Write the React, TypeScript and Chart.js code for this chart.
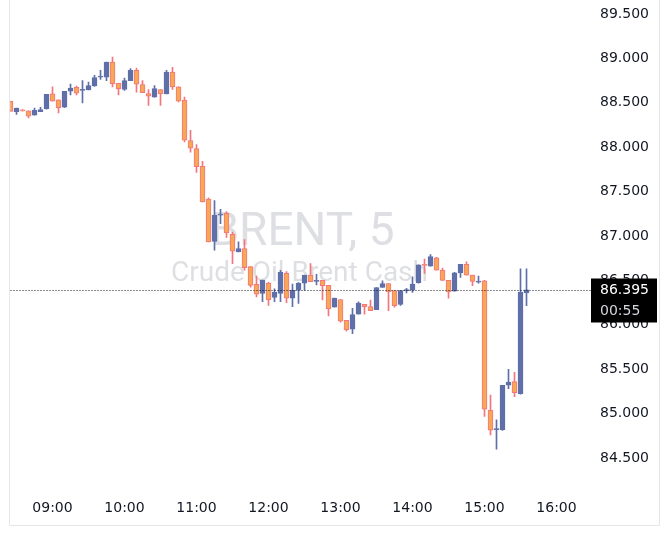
import React, { useEffect, useRef } from "react";
import { Chart, registerables } from "chart.js";

Chart.register(...registerables);

// ---- data ----
const sessionStart = "08:25";
const slotCount = 97; // 5-minute slots shown on the time axis (08:25 .. 16:25)
const hourTicks = ["09:00", "10:00", "11:00", "12:00", "13:00", "14:00", "15:00", "16:00"];

const opens = [
  88.516, 88.40, 88.42, 88.41, 88.36, 88.40, 88.435, 88.60, 88.535, 88.45,
  88.63, 88.675, 88.64, 88.645, 88.69, 88.79, 88.79, 88.96, 88.72, 88.65,
  88.75, 88.865, 88.705, 88.605, 88.565, 88.65, 88.60, 88.845, 88.68, 88.53,
  88.075, 87.985, 87.785, 87.415, 86.94, 87.235, 87.255, 87.02, 86.82, 86.86,
  86.655, 86.455, 86.355, 86.47, 86.31, 86.355, 86.58, 86.30, 86.39, 86.47,
  86.56, 86.49, 86.50, 86.445, 86.20, 86.285, 86.05, 85.95, 86.12, 86.23,
  86.205, 86.17, 86.42, 86.465, 86.385, 86.23, 86.385, 86.39, 86.475, 86.68,
  86.66, 86.755, 86.615, 86.50, 86.38, 86.585, 86.68, 86.56, 86.48, 86.495,
  85.04, 84.82, 84.82, 85.32, 85.36, 85.225, 86.36,
];
const highs = [
  88.52, 88.44, 88.425, 88.41, 88.44, 88.45, 88.595, 88.68, 88.535, 88.63,
  88.71, 88.69, 88.75, 88.735, 88.81, 88.865, 88.96, 89.015, 88.72, 88.78,
  88.885, 88.89, 88.75, 88.65, 88.695, 88.65, 88.865, 88.90, 88.68, 88.565,
  88.19, 88.03, 87.84, 87.43, 87.40, 87.30, 87.275, 87.045, 86.935, 86.96,
  86.655, 86.55, 86.505, 86.48, 86.405, 86.615, 86.60, 86.46, 86.475, 86.56,
  86.69, 86.57, 86.50, 86.445, 86.30, 86.285, 86.05, 86.185, 86.26, 86.23,
  86.28, 86.42, 86.495, 86.465, 86.385, 86.385, 86.41, 86.54, 86.675, 86.74,
  86.79, 86.76, 86.64, 86.50, 86.59, 86.68, 86.71, 86.56, 86.55, 86.50,
  85.21, 84.93, 85.32, 85.50, 85.465, 86.63, 86.63,
];
const lows = [
  88.40, 88.37, 88.405, 88.33, 88.36, 88.40, 88.43, 88.52, 88.385, 88.445,
  88.59, 88.59, 88.50, 88.645, 88.685, 88.765, 88.75, 88.68, 88.59, 88.64,
  88.75, 88.62, 88.615, 88.47, 88.565, 88.47, 88.60, 88.65, 88.51, 88.06,
  87.945, 87.715, 87.385, 86.935, 86.84, 87.14, 86.985, 86.69, 86.82, 86.615,
  86.425, 86.315, 86.26, 86.22, 86.26, 86.26, 86.25, 86.205, 86.24, 86.39,
  86.485, 86.45, 86.28, 86.10, 86.20, 86.03, 85.93, 85.90, 86.12, 86.12,
  86.16, 86.17, 86.42, 86.16, 86.20, 86.22, 86.36, 86.365, 86.47, 86.58,
  86.66, 86.615, 86.50, 86.30, 86.38, 86.535, 86.56, 86.44, 86.47, 84.97,
  84.76, 84.60, 84.81, 85.28, 85.19, 85.22, 86.215,
];
const closes = [
  88.404, 88.44, 88.41, 88.35, 88.415, 88.425, 88.595, 88.52, 88.445, 88.63,
  88.665, 88.61, 88.648, 88.695, 88.785, 88.797, 88.96, 88.715, 88.66, 88.75,
  88.865, 88.71, 88.615, 88.575, 88.66, 88.60, 88.845, 88.68, 88.52, 88.08,
  87.99, 87.78, 87.385, 86.935, 87.235, 87.245, 87.035, 86.83, 86.86, 86.645,
  86.445, 86.345, 86.505, 86.28, 86.37, 86.59, 86.30, 86.39, 86.47, 86.56,
  86.485, 86.50, 86.44, 86.18, 86.30, 86.04, 85.945, 86.115, 86.245, 86.205,
  86.16, 86.42, 86.465, 86.37, 86.215, 86.385, 86.397, 86.46, 86.675, 86.668,
  86.77, 86.615, 86.50, 86.37, 86.585, 86.68, 86.56, 86.49, 86.492, 85.05,
  84.815, 84.832, 85.32, 85.355, 85.235, 86.37, 86.395,
];

const symbolTitle = "BRENT, 5";
const symbolName = "Crude Oil Brent Cash";
const countdown = "00:55";

// ---- styles ----
const UP = "#5f6fa9";
const DOWN_FILL = "#f8a757";
const DOWN_LINE = "#f2767c";
const TEXT = "#131722";
const AXIS_FONT = "DejaVu Sans";

function buildSlots(): string[] {
  const [h, m] = sessionStart.split(":").map(Number);
  const out: string[] = [];
  for (let i = 0; i < slotCount; i++) {
    const t = h * 60 + m + i * 5;
    out.push(
      `${String(Math.floor(t / 60)).padStart(2, "0")}:${String(t % 60).padStart(2, "0")}`
    );
  }
  return out;
}

const watermarkPlugin = {
  id: "watermark",
  beforeDatasetsDraw(chart: any) {
    const { ctx, chartArea } = chart;
    const cx = (chartArea.left + chartArea.right) / 2;
    const cy = (chartArea.top + chartArea.bottom) / 2;
    ctx.save();
    ctx.fillStyle = "rgba(128,131,143,0.26)";
    ctx.textAlign = "center";
    ctx.textBaseline = "alphabetic";
    ctx.font = "46px Roboto";
    ctx.fillText(symbolTitle, cx + 4, cy);
    ctx.font = "28px Roboto";
    ctx.fillText(symbolName, cx + 1, cy + 36);
    ctx.restore();
  },
};

const overlayPlugin = {
  id: "overlay",
  afterDraw(chart: any) {
    const { ctx, chartArea, scales } = chart;
    const last = closes[closes.length - 1];
    const py = Math.round(scales.y.getPixelForValue(last)) + 0.5;
    const boxLeft = 591;
    const textX = 600;
    ctx.save();
    // dotted last-price line
    ctx.strokeStyle = TEXT;
    ctx.lineWidth = 1;
    ctx.setLineDash([1, 2]);
    ctx.beginPath();
    ctx.moveTo(chartArea.left, py);
    ctx.lineTo(boxLeft, py);
    ctx.stroke();
    ctx.setLineDash([]);
    // price label box
    ctx.fillStyle = "#000000";
    ctx.fillRect(boxLeft, py - 12, 66, 44);
    ctx.textAlign = "left";
    ctx.textBaseline = "middle";
    ctx.font = `14px "${AXIS_FONT}"`;
    ctx.fillStyle = "#ffffff";
    ctx.fillText(last.toFixed(3), textX, py);
    ctx.fillStyle = "#d4d6dc";
    ctx.fillText(countdown, textX, py + 21);
    // frame
    ctx.strokeStyle = "#e6e6ea";
    ctx.beginPath();
    ctx.moveTo(9.5, 0);
    ctx.lineTo(9.5, 525.5);
    ctx.lineTo(659.5, 525.5);
    ctx.lineTo(659.5, 0);
    ctx.stroke();
    ctx.restore();
  },
};

export default function App() {
  const canvasRef = useRef<HTMLCanvasElement | null>(null);

  useEffect(() => {
    if (!canvasRef.current) return;
    const slots = buildSlots();
    const n = opens.length;
    const isUp = (i: number) => closes[i] >= opens[i];

    const bodies = slots.map((_, i) => (i < n ? [opens[i], closes[i]] : null));
    const wicks = slots.map((_, i) => (i < n ? [lows[i], highs[i]] : null));
    const bodyFill = slots.map((_, i) => (i < n && isUp(i) ? UP : DOWN_FILL));
    const bodyLine = slots.map((_, i) => (i < n && isUp(i) ? UP : DOWN_LINE));
    const wickColor = slots.map((_, i) => (i < n && isUp(i) ? UP : DOWN_LINE));

    const chart = new Chart(canvasRef.current, {
      type: "bar",
      data: {
        labels: slots,
        datasets: [
          {
            label: "body",
            data: bodies as any,
            backgroundColor: bodyFill,
            borderColor: bodyLine,
            borderWidth: 1,
            borderSkipped: false,
            barThickness: 5,
            minBarLength: 1,
            grouped: false,
            clip: 0 as any,
            order: 0,
          },
          {
            label: "wick",
            data: wicks as any,
            backgroundColor: wickColor,
            borderWidth: 0,
            barThickness: 1,
            grouped: false,
            clip: 0 as any,
            order: 1,
          },
        ],
      },
      options: {
        responsive: false,
        animation: false,
        devicePixelRatio: 1,
        layout: { padding: { left: 10.5, right: 0, top: 0, bottom: 0 } },
        plugins: {
          legend: { display: false },
          tooltip: { enabled: false },
        },
        events: [],
        scales: {
          x: {
            type: "category",
            offset: false,
            grid: { display: false, drawTicks: false },
            border: { display: false },
            ticks: {
              autoSkip: false,
              maxRotation: 0,
              minRotation: 0,
              padding: 10,
              color: TEXT,
              font: { family: AXIS_FONT, size: 14 },
              callback: (_v: any, idx: number) =>
                hourTicks.includes(slots[idx]) ? slots[idx] : "",
            },
            afterFit: (s: any) => {
              s.height = 48;
              s.paddingLeft = 0;
              s.paddingRight = 0;
              s.paddingTop = 0;
              s.paddingBottom = 0;
            },
          },
          y: {
            type: "linear",
            position: "right",
            min: 84.14,
            max: 89.658,
            grid: { display: false, drawTicks: false },
            border: { display: false },
            ticks: {
              stepSize: 0.5,
              includeBounds: false,
              padding: 13.5,
              crossAlign: "near",
              color: TEXT,
              font: { family: AXIS_FONT, size: 14 },
              callback: (v: any) => Number(v).toFixed(3),
            },
            afterFit: (s: any) => {
              s.width = 83.5;
              s.paddingLeft = 0;
              s.paddingRight = 0;
              s.paddingTop = 0;
              s.paddingBottom = 0;
            },
          },
        },
      } as any,
      plugins: [watermarkPlugin, overlayPlugin],
    });
    return () => chart.destroy();
  }, []);

  return (
    <div
      style={{
        position: "fixed",
        left: 0,
        top: 0,
        width: 670,
        height: 538,
        background: "#ffffff",
      }}
    >
      <canvas ref={canvasRef} width={670} height={538} style={{ width: 670, height: 538 }} />
    </div>
  );
}
